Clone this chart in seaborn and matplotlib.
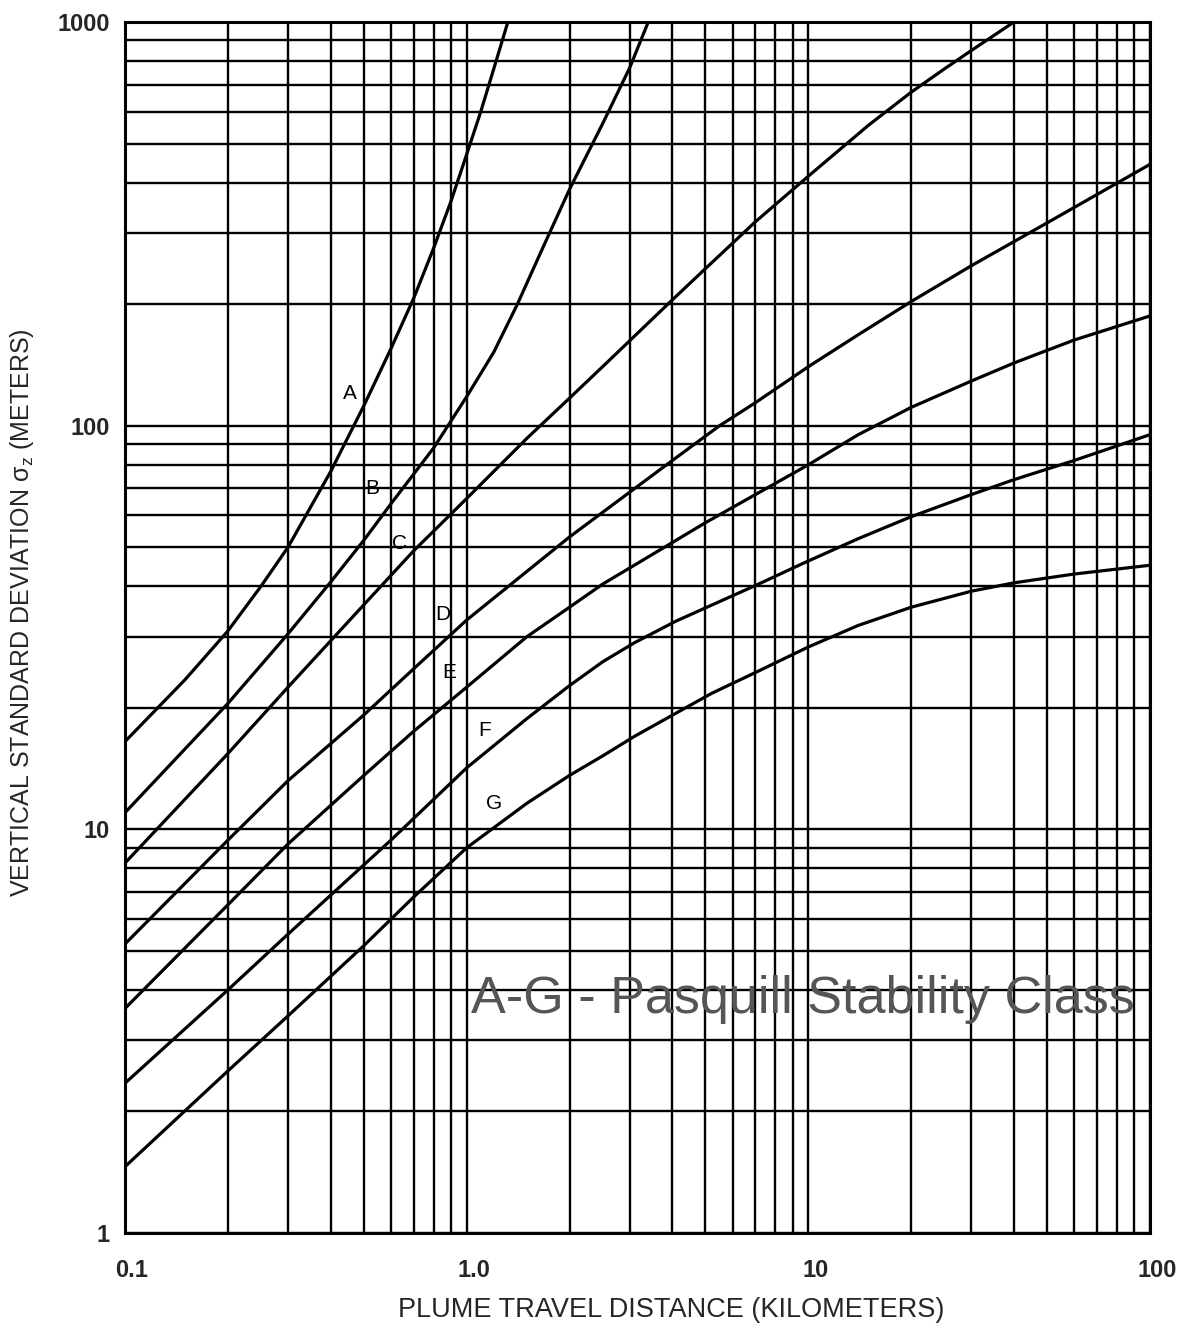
import numpy as np
import pandas as pd
import matplotlib
matplotlib.use("Agg")
import matplotlib.pyplot as plt
import seaborn as sns
from matplotlib.ticker import FixedLocator, FixedFormatter, LogLocator, NullFormatter
from matplotlib.transforms import ScaledTranslation

# ---- data (plume travel distance km, sigma_z m) ----
A_x = [0.1, 0.15, 0.2, 0.25, 0.3, 0.4, 0.5, 0.6, 0.7, 0.8, 0.9, 1.0, 1.1, 1.2, 1.32]
A_y = [16.5, 23.5, 31, 40, 50, 77, 112, 155, 207, 275, 360, 470, 600, 765, 1000]

B_x = [0.1, 0.2, 0.3, 0.4, 0.5, 0.6, 0.8, 1.0, 1.2, 1.4, 1.7, 2.0, 2.5, 3.0, 3.4]
B_y = [11, 20.5, 30.5, 41, 52, 64, 88, 118, 152, 198, 285, 385, 560, 770, 1000]

C_x = [0.1, 0.2, 0.3, 0.5, 0.7, 1.0, 1.5, 2.0, 2.5, 4.0, 5.0, 7.0, 10, 15, 20, 25, 30, 40]
C_y = [8.25, 15.4, 22.5, 36, 49, 66, 93, 117, 140, 205, 245, 320, 415, 555, 670, 765, 850, 1000]

D_x = [0.1, 0.2, 0.3, 0.5, 0.7, 1.0, 2.0, 2.5, 4.0, 5.5, 7.0, 10, 14, 20, 30, 50, 100]
D_y = [5.2, 9.4, 13.2, 19.2, 25, 33, 53, 61, 82, 100, 114, 140, 168, 203, 249, 318, 444]

E_x = [0.1, 0.2, 0.3, 0.5, 0.7, 1.0, 1.5, 2.0, 2.5, 3.5, 5.0, 7.0, 10, 14, 20, 30, 40, 60, 100]
E_y = [3.6, 6.5, 9.2, 13.6, 17.5, 22.5, 30, 35.5, 40.5, 48, 57.5, 67.5, 80, 95, 111, 129, 143, 163, 187]

F_x = [0.1, 0.2, 0.3, 0.6, 1.0, 1.5, 2.0, 2.5, 3.1, 4.1, 5.2, 7.1, 9.6, 14, 20, 30, 40, 60, 100]
F_y = [2.35, 4.0, 5.5, 9.4, 14.2, 18.8, 22.7, 26.0, 29.0, 32.8, 35.9, 40.4, 45.5, 52.5, 59.5, 67.5, 73.5, 82, 95]

G_x = [0.1, 0.2, 0.3, 0.5, 0.7, 1.0, 1.5, 2.0, 2.5, 3.1, 4.1, 5.2, 7.1, 10, 14, 20, 30, 40, 60, 100]
G_y = [1.46, 2.52, 3.45, 5.15, 6.8, 9.0, 11.6, 13.6, 15.2, 17, 19.4, 21.7, 24.6, 28.3, 32.0, 35.5, 38.9, 40.8, 42.9, 45.1]

classes = ["A", "B", "C", "D", "E", "F", "G"]
label_x = [0.454, 0.530, 0.635, 0.849, 0.890, 1.126, 1.205]
label_y = [120, 70, 51.2, 34, 24.5, 17.6, 11.6]

x_ticks = [0.1, 1, 10, 100]
x_tick_labels = ["0.1", "1.0", "10", "100"]
y_ticks = [1, 10, 100, 1000]
y_tick_labels = ["1", "10", "100", "1000"]

# ---- build long table ----
frames = []
for name, xs, ys in zip(classes, [A_x, B_x, C_x, D_x, E_x, F_x, G_x],
                        [A_y, B_y, C_y, D_y, E_y, F_y, G_y]):
    frames.append(pd.DataFrame({"distance": xs, "sigma": ys, "cls": name}))
df = pd.concat(frames, ignore_index=True)

sns.set_style("white")
plt.rcParams["font.family"] = ["Liberation Sans", "DejaVu Sans"]
plt.rcParams["mathtext.default"] = "regular"

W, H = 1194, 1342
fig = plt.figure(figsize=(W / 100, H / 100), dpi=100)
L, R, T, B = 125, 1150, 22, 1233
ax = fig.add_axes([L / W, 1 - B / H, (R - L) / W, (B - T) / H])

sns.lineplot(data=df, x="distance", y="sigma", units="cls", estimator=None,
             color="black", lw=2.3, ax=ax, sort=True, legend=False)

ax.set_xscale("log")
ax.set_yscale("log")
ax.set_xlim(0.1, 100)
ax.set_ylim(1, 1000)

ax.xaxis.set_major_locator(FixedLocator(x_ticks))
ax.xaxis.set_major_formatter(FixedFormatter(x_tick_labels))
ax.yaxis.set_major_locator(FixedLocator(y_ticks))
ax.yaxis.set_major_formatter(FixedFormatter(y_tick_labels))
ax.xaxis.set_minor_locator(LogLocator(base=10, subs=np.arange(2, 10)))
ax.yaxis.set_minor_locator(LogLocator(base=10, subs=np.arange(2, 10)))
ax.xaxis.set_minor_formatter(NullFormatter())
ax.yaxis.set_minor_formatter(NullFormatter())

ax.grid(True, which="both", color="black", lw=1.7)
ax.set_axisbelow(True)
ax.tick_params(which="both", length=0)
ax.tick_params(axis="x", pad=19, labelsize=17)
ax.tick_params(axis="y", pad=11, labelsize=17)
shift = ScaledTranslation(7 / 100, 0, fig.dpi_scale_trans)
for t in ax.get_xticklabels():
    t.set_fontweight("bold")
    t.set_transform(t.get_transform() + shift)
for t in ax.get_yticklabels():
    t.set_fontweight("bold")
for s in ax.spines.values():
    s.set_color("black")
    s.set_linewidth(2.2)

ax.set_xlabel("PLUME TRAVEL DISTANCE (KILOMETERS)", fontsize=19.5)
ax.xaxis.set_label_coords((671 - L) / (R - L), -(1297 - B) / (B - T))
ax.xaxis.label.set_va("top")
ax.set_ylabel(r"VERTICAL STANDARD DEVIATION σ$_z$ (METERS)", fontsize=18)
ax.yaxis.label.set_va("center")
ax.yaxis.set_label_coords((22 - L) / (R - L), (B - 613) / (B - T))

for c, lx, ly in zip(classes, label_x, label_y):
    ax.text(lx, ly, c, fontsize=15, ha="center", va="center", color="black")

ax.text(1.03, 3.78, "A-G - Pasquill Stability Class", fontsize=37.5,
        ha="left", va="center", color="#555555")

fig.savefig("out.png", dpi=100, facecolor="white")
